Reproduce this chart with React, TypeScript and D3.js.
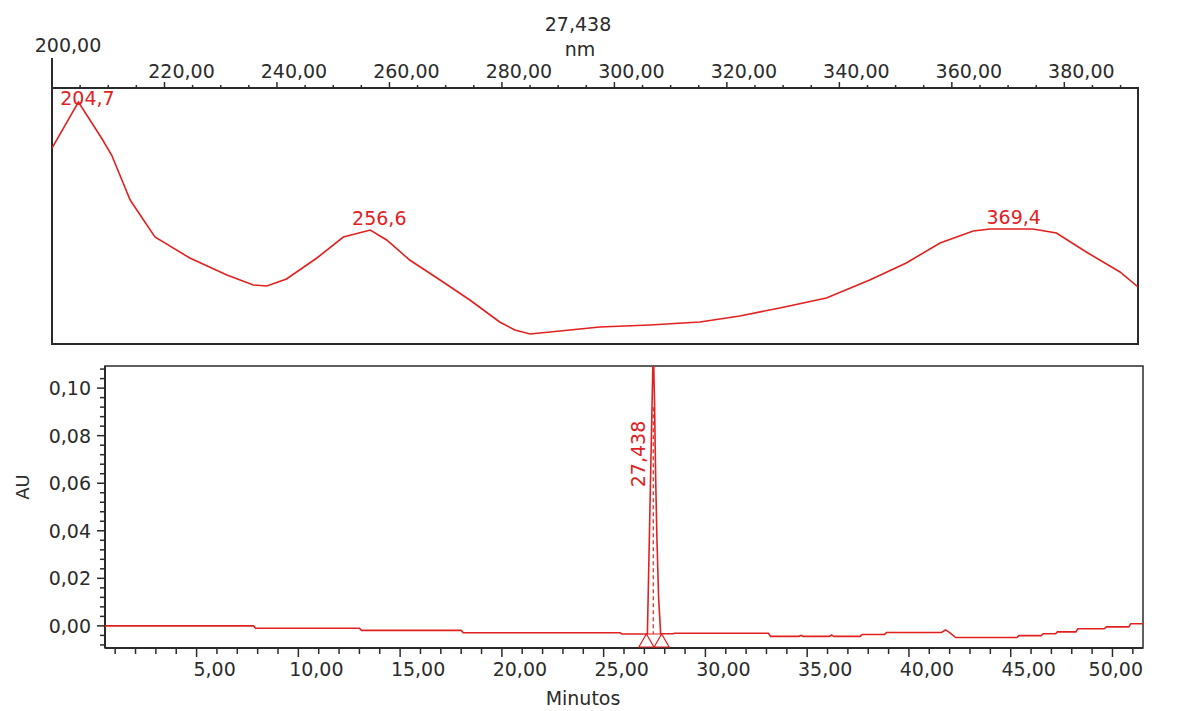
import React, { useEffect } from 'react';
import * as d3 from 'd3';

// UV spectrum taken at the apex (27,438 min)
const wavelengths = [200.0, 204.7, 208.8, 210.6, 213.9, 218.3, 224.5, 231.1, 235.8, 238.2, 241.7, 247.1, 251.8, 256.6, 259.5, 263.6, 269.0, 274.3, 279.6, 282.3, 285.0, 290.3, 297.4, 306.3, 315.2, 322.3, 329.4, 337.7, 345.4, 351.9, 357.9, 363.8, 366.8, 369.4, 374.4, 378.6, 383.9, 389.9, 393.1];
const absorbance = [0.196, 0.242, 0.206, 0.189, 0.144, 0.107, 0.086, 0.069, 0.059, 0.058, 0.065, 0.086, 0.107, 0.114, 0.104, 0.084, 0.064, 0.044, 0.022, 0.014, 0.010, 0.013, 0.017, 0.019, 0.022, 0.028, 0.036, 0.046, 0.064, 0.081, 0.101, 0.113, 0.115, 0.115, 0.115, 0.111, 0.092, 0.072, 0.057];
const spectrumPeaks = [204.7, 256.6, 369.4];
const nmTickLabels = [220, 240, 260, 280, 300, 320, 340, 360, 380];

// chromatogram
const times = [0.5, 7.8, 7.9, 13.0, 13.1, 18.0, 18.1, 25.8, 25.9, 27.15, 27.3, 27.438, 27.5, 27.56, 27.62, 27.7, 27.8, 28.4, 28.5, 33.1, 33.2, 34.6, 34.7, 34.8, 36.1, 36.2, 36.3, 37.6, 37.7, 38.8, 38.9, 41.6, 41.8, 42.0, 42.3, 45.3, 45.4, 46.5, 46.6, 47.2, 47.3, 48.2, 48.3, 49.6, 49.7, 50.8, 50.9, 51.5];
const signal = [0.0, 0.0, -0.001, -0.001, -0.0019, -0.0019, -0.0029, -0.0029, -0.0034, -0.0034, 0.06, 0.118, 0.094, 0.06, 0.036, 0.012, -0.0033, -0.0033, -0.0031, -0.0031, -0.0044, -0.0044, -0.004, -0.0044, -0.0044, -0.0038, -0.0044, -0.0044, -0.0036, -0.0036, -0.0028, -0.0028, -0.0017, -0.0028, -0.0049, -0.0049, -0.0041, -0.0041, -0.0033, -0.0033, -0.0025, -0.0025, -0.0012, -0.0012, -0.0004, -0.0004, 0.0009, 0.0009];
const retentionTime = 27.438;
const peakStart = 27.1;
const peakEnd = 27.85;
const timeTickLabels = [5, 10, 15, 20, 25, 30, 35, 40, 45, 50];
const auTickLabels = [0, 0.02, 0.04, 0.06, 0.08, 0.1];

const RED = '#e0211f';
const INK = '#2b2b2b';
const FONT = '"DejaVu Sans", Verdana, sans-serif';

const comma = (v: number, digits: number) => d3.format(`.${digits}f`)(v).replace('.', ',');

export default function App() {
  useEffect(() => {
    document.body.style.margin = '0';
  }, []);

  // top panel: spectrum
  const top = { left: 52, right: 1138, top: 88, bottom: 344 };
  const xNm = d3.scaleLinear().domain([200, 393.1]).range([top.left, top.right]);
  const yAbs = d3.scaleLinear().domain([0, 0.256]).range([top.bottom, top.top]);
  const specLine = d3.line<number>()
    .x((d, i) => xNm(wavelengths[i]))
    .y(d => yAbs(d));

  // bottom panel: chromatogram
  const bot = { left: 105, right: 1143, top: 366, bottom: 648 };
  const xT = d3.scaleLinear().domain([0.5, 51.5]).range([bot.left, bot.right]);
  const yAU = d3.scaleLinear().domain([-0.0093, 0.1093]).range([bot.bottom, bot.top]);
  const chromLine = d3.line<number>()
    .x((d, i) => xT(times[i]))
    .y(d => yAU(d));

  const nmMinor = d3.range(205, 393, 5);
  const tMinor = d3.range(1, 52, 1);
  const auMinor = d3.range(-0.008, 0.109, 0.004);

  const baseY = yAU(-0.0034);

  return (
    <svg width={1179} height={711} style={{ display: 'block', background: '#fff' }} fontFamily={FONT}>
      <defs>
        <clipPath id="clipTop"><rect x={top.left} y={top.top} width={top.right - top.left} height={top.bottom - top.top} /></clipPath>
        <clipPath id="clipBot"><rect x={bot.left} y={bot.top} width={bot.right - bot.left} height={bot.bottom - bot.top} /></clipPath>
      </defs>

      {/* titles */}
      <text x={578} y={31} fontSize={19} fill={INK} textAnchor="middle">27,438</text>
      <text x={580} y={56} fontSize={19} fill={INK} textAnchor="middle">nm</text>

      {/* top panel frame */}
      <rect x={top.left} y={top.top} width={top.right - top.left} height={top.bottom - top.top} fill="none" stroke={INK} strokeWidth={2} />
      <line x1={top.left} x2={top.left} y1={58} y2={top.top} stroke={INK} strokeWidth={2} />
      {nmMinor.map(v => {
        const major = v % 20 === 0;
        return <line key={v} x1={xNm(v)} x2={xNm(v)} y1={top.top} y2={top.top - (major ? 6 : 3)} stroke={INK} strokeWidth={1.5} />;
      })}
      <text x={xNm(200) + 16} y={52} fontSize={19} fill={INK} textAnchor="middle">{comma(200, 2)}</text>
      {nmTickLabels.map(v => (
        <text key={v} x={xNm(v) + 17} y={78} fontSize={19} fill={INK} textAnchor="middle">{comma(v, 2)}</text>
      ))}

      <path d={specLine(absorbance) || ''} fill="none" stroke={RED} strokeWidth={1.6} clipPath="url(#clipTop)" />
      {spectrumPeaks.map(p => {
        const i = wavelengths.indexOf(p);
        const y = Math.max(yAbs(absorbance[i]) - 5, top.top + 17);
        return <text key={p} x={xNm(p) + 9} y={y} fontSize={19} fill={RED} textAnchor="middle">{comma(p, 1)}</text>;
      })}

      {/* bottom panel frame */}
      <rect x={bot.left} y={bot.top} width={bot.right - bot.left} height={bot.bottom - bot.top} fill="none" stroke={INK} strokeWidth={1.5} />
      <line x1={bot.left} x2={bot.left} y1={bot.top} y2={bot.bottom} stroke={INK} strokeWidth={2} />
      <line x1={bot.left} x2={bot.right} y1={bot.bottom} y2={bot.bottom} stroke={INK} strokeWidth={2} />

      {auMinor.map((v, i) => (
        <line key={i} x1={bot.left} x2={bot.left - (i % 5 === 2 ? 8 : 5)} y1={yAU(v)} y2={yAU(v)} stroke={INK} strokeWidth={1.5} />
      ))}
      {auTickLabels.map(v => (
        <text key={v} x={91} y={yAU(v) + 7} fontSize={19} fill={INK} textAnchor="end">{comma(v, 2)}</text>
      ))}
      <text transform="translate(29,487) rotate(-90)" fontSize={18} fill={INK} textAnchor="middle">AU</text>

      {tMinor.map(v => (
        <line key={v} x1={xT(v)} x2={xT(v)} y1={bot.bottom} y2={bot.bottom + (v % 5 === 0 ? 9 : 6)} stroke={INK} strokeWidth={1.5} />
      ))}
      {timeTickLabels.map(v => {
        const cx = xT(v) + 18;
        const clamp = cx + 28 > bot.right;
        return (
          <text key={v} x={clamp ? bot.right : cx} y={676} fontSize={19} fill={INK} textAnchor={clamp ? 'end' : 'middle'}>{comma(v, 2)}</text>
        );
      })}
      <text x={583} y={705} fontSize={19} fill={INK} textAnchor="middle">Minutos</text>

      <g clipPath="url(#clipBot)">
        <path d={chromLine(signal) || ''} fill="none" stroke={RED} strokeWidth={1.6} />
        <line x1={xT(retentionTime)} x2={xT(retentionTime)} y1={yAU(0.092)} y2={baseY} stroke={RED} strokeWidth={1.2} strokeDasharray="4,3" />
        <line x1={xT(peakStart)} x2={xT(peakEnd)} y1={baseY} y2={baseY} stroke={RED} strokeWidth={1} />
        {[peakStart, peakEnd].map(t => (
          <path key={t} d={`M${xT(t) - 7.5},${bot.bottom - 1}L${xT(t)},${bot.bottom - 14}L${xT(t) + 7.5},${bot.bottom - 1}Z`} fill="none" stroke={RED} strokeWidth={1.2} />
        ))}
      </g>
      <text transform={`translate(${xT(retentionTime) - 8},454) rotate(-90)`} fontSize={19} fill={RED} textAnchor="middle">{comma(retentionTime, 3)}</text>
    </svg>
  );
}
